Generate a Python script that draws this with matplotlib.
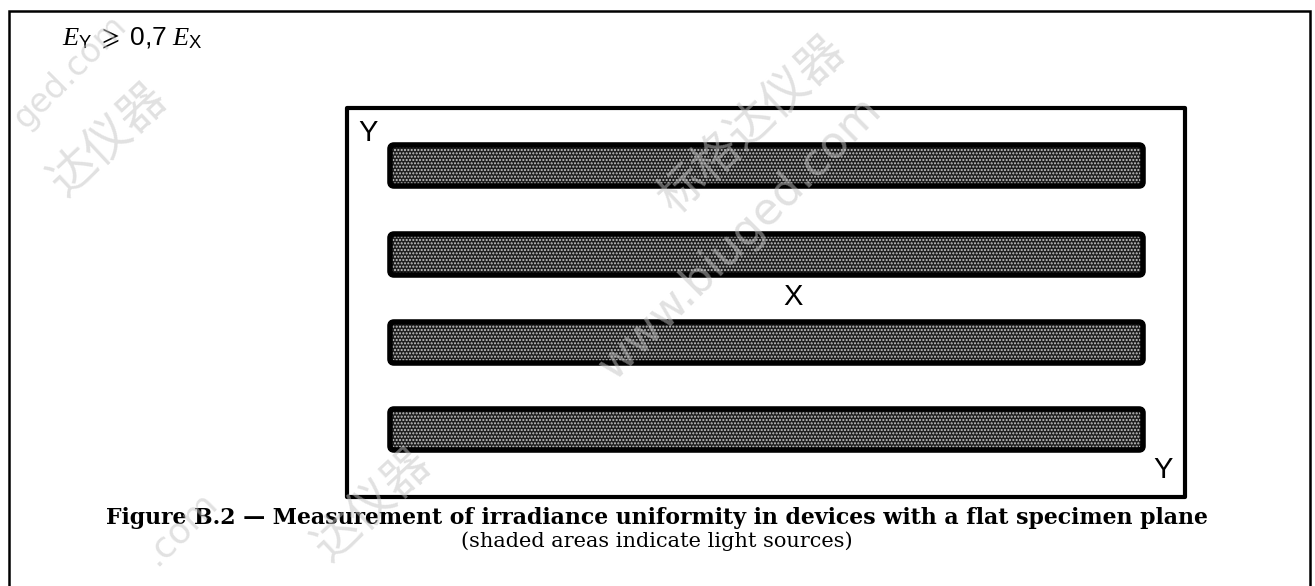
import matplotlib.pyplot as plt
from matplotlib.patches import FancyBboxPatch, Rectangle

plt.rcParams['mathtext.fontset'] = 'custom'
plt.rcParams['mathtext.rm'] = 'Liberation Sans'
plt.rcParams['mathtext.it'] = 'Liberation Serif:italic'
plt.rcParams['mathtext.fallback'] = 'stix'

# diagram data (pixel space of the original figure, y grows downwards)
lamp_names = ["lamp 1", "lamp 2", "lamp 3", "lamp 4"]
lamp_top = [145, 234, 322, 409]
lamp_left, lamp_right, lamp_height = 390, 1143, 41
point_labels = ["Y", "X", "Y"]
point_xy = [(368, 133), (793, 297), (1163, 470)]
formula = r"$\mathit{E}_{\mathrm{Y}}\ \geqslant\ \mathrm{0{,}7}\ \mathit{E}_{\mathrm{X}}$"
caption = "Figure B.2 \u2014 Measurement of irradiance uniformity in devices with a flat specimen plane"
subcaption = "(shaded areas indicate light sources)"
# watermark fragments that are visible in the scan
wm_cn = ["达仪器", "标格达仪器", "达仪器"]
wm_cn_xy = [(108, 140), (752, 125), (372, 505)]
wm_url = ["ged.com", "www.biuged.com", ".com"]
wm_url_xy = [(70, 72), (740, 238), (180, 528)]
wm_url_size = [24, 32, 26]

W, H = 1315, 586
fig = plt.figure(figsize=(W / 100, H / 100), dpi=100)
ax = fig.add_axes([0, 0, 1, 1])
ax.set_xlim(0, W)
ax.set_ylim(H, 0)
ax.axis('off')

# outer frame (open at bottom, continues past the crop)
ax.plot([9, 9, 1310, 1310], [H + 5, 11, 11, H + 5], color='black', lw=1.8,
        solid_joinstyle='miter')

# specimen plane
ax.add_patch(Rectangle((347, 108), 1185 - 347, 497 - 108, fill=False,
                       edgecolor='black', lw=3.0, joinstyle='round'))

# light sources: dotted grey fill with a heavy rounded border
for name, top in zip(lamp_names, lamp_top):
    box = dict(boxstyle="round,pad=0,rounding_size=4")
    ax.add_patch(FancyBboxPatch((lamp_left, top), lamp_right - lamp_left, lamp_height,
                                facecolor='#1e1e1e', edgecolor='#c8c8c8', hatch='.....',
                                lw=0, **box))
    ax.add_patch(FancyBboxPatch((lamp_left, top), lamp_right - lamp_left, lamp_height,
                                fill=False, edgecolor='black', lw=4.0, **box))

for lab, (x, y) in zip(point_labels, point_xy):
    ax.text(x, y, lab, ha='center', va='center', fontsize=21,
            family='Liberation Sans')

ax.text(62, 38, formula, ha='left', va='center', fontsize=19)

ax.text(657, 518, caption, ha='center', va='center', fontsize=15.8,
        family='DejaVu Serif', fontweight='bold')
ax.text(657, 541, subcaption, ha='center', va='center', fontsize=15,
        family='DejaVu Serif')

# faint watermarks
for s, (x, y) in zip(wm_cn, wm_cn_xy):
    ax.text(x, y, s, ha='center', va='center', rotation=43, fontsize=34,
            family='Noto Sans CJK SC', color='#c4c4c4', alpha=0.5, zorder=5)
for s, (x, y), fs in zip(wm_url, wm_url_xy, wm_url_size):
    ax.text(x, y, s, ha='center', va='center', rotation=45, fontsize=fs,
            family='DejaVu Sans', color='#c4c4c4', alpha=0.5, zorder=5)

fig.savefig('out.png', dpi=100)
